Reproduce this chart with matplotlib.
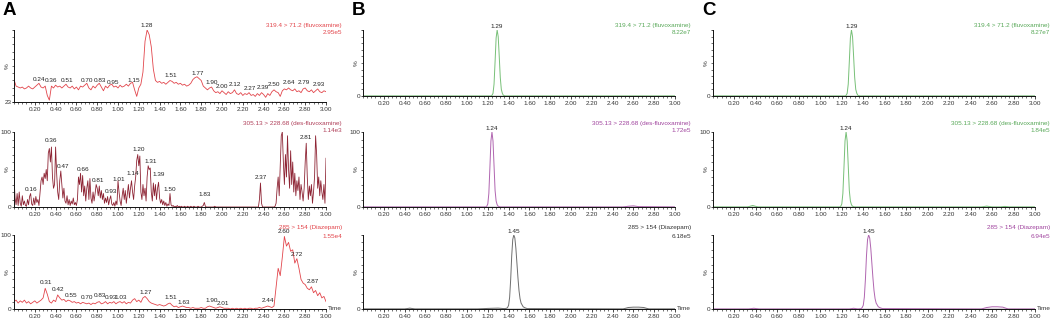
import numpy as np
import matplotlib
matplotlib.use("Agg")
import matplotlib.pyplot as plt
from matplotlib.ticker import MultipleLocator, FixedLocator

# ---------------- DATA ----------------
# Panel A, trace 1 (319.4 > 71.2, fluvoxamine), sampled every 0.02 min, % (axis 23-100)
a1_vals = [47, 40, 39, 38, 39, 37, 38, 40, 38, 37, 39, 41, 43, 39, 38, 40, 30, 25, 40, 38,
           41, 39, 40, 38, 40, 42, 39, 38, 40, 37, 39, 36, 40, 39, 41, 43, 38, 36, 40, 38,
           41, 43, 39, 35, 40, 38, 41, 42, 39, 40, 38, 41, 39, 40, 42, 40, 43, 44, 36, 29,
           38, 42, 55, 88, 100, 95, 82, 58, 46, 44, 45, 43, 44, 42, 44, 46, 45, 43, 44, 42,
           43, 41, 42, 40, 41, 43, 47, 49, 50, 48, 46, 40, 38, 36, 38, 39, 35, 33, 34, 32,
           35, 33, 31, 34, 32, 33, 36, 32, 31, 33, 30, 32, 31, 33, 30, 31, 29, 32, 30, 33,
           31, 28, 32, 30, 34, 36, 34, 33, 29, 35, 37, 36, 38, 36, 35, 37, 34, 35, 33, 37,
           38, 35, 34, 36, 33, 35, 37, 34, 33, 35, 34]
a1_labels = [0.24, 0.36, 0.51, 0.70, 0.83, 0.95, 1.15, 1.28, 1.51, 1.77, 1.90, 2.00,
             2.12, 2.27, 2.39, 2.50, 2.64, 2.79, 2.93]
a1_label_y = [47, 45.5, 45.5, 45.5, 45.5, 44, 45.5, 105, 51.5, 53.6, 44, 40,
              41.5, 37, 38, 41.5, 44, 44, 41.5]

# Panel A, trace 2 (305.13 > 228.68, des-fluvoxamine), sampled every 0.01 min, %
a2_vals = [40, 12, 3, 18, 2, 20, 5, 1, 15, 3,
           8, 2, 1, 10, 3, 14, 18, 4, 2, 12,
           3, 14, 6, 10, 2, 18, 35, 40, 30, 45,
           38, 50, 35, 72, 78, 60, 80, 40, 25, 30,
           80, 45, 20, 10, 35, 48, 30, 12, 25, 8,
           5, 15, 3, 10, 2, 8, 4, 12, 3, 6,
           2, 10, 40, 30, 45, 20, 42, 15, 28, 8,
           25, 35, 10, 38, 12, 5, 20, 8, 18, 30,
           25, 15, 28, 12, 22, 10, 18, 5, 12, 6,
           14, 3, 10, 15, 4, 2, 6, 1, 8, 3,
           35, 20, 8, 2, 15, 25, 10, 22, 5, 18,
           30, 12, 25, 35, 20, 10, 28, 40, 62, 70,
           55, 68, 20, 10, 30, 15, 25, 8, 40, 55,
           50, 52, 20, 8, 32, 15, 30, 10, 25, 33,
           12, 5, 10, 3, 8, 2, 6, 1, 4, 2,
           18, 3, 1, 2, 0, 1, 0, 2, 0, 1,
           0, 1, 0, 0, 1, 0, 0, 1, 0, 0,
           1, 0, 0, 1, 0, 0, 0, 1, 0, 0,
           0, 1, 2, 6, 1, 0, 0, 0, 0, 0,
           0, 0, 0, 1, 0, 0, 0, 0, 0, 0,
           0, 0, 0, 0, 0, 0, 0, 0, 0, 0,
           0, 0, 0, 0, 0, 0, 0, 0, 0, 0,
           0, 0, 0, 0, 0, 0, 0, 0, 0, 0,
           0, 0, 0, 0, 0, 0, 10, 32, 5, 0,
           0, 0, 0, 0, 0, 0, 0, 0, 0, 0,
           0, 1, 5, 25, 40, 15, 55, 95, 100, 60,
           30, 70, 40, 95, 50, 25, 75, 30, 60, 20,
           45, 15, 35, 22, 40, 10, 30, 20, 8, 25,
           60, 85, 40, 10, 28, 15, 30, 5, 20, 40,
           95, 70, 25, 40, 15, 35, 20, 10, 30, 5,
           65]
a2_labels = [0.16, 0.36, 0.47, 0.66, 0.81, 0.93, 1.01, 1.14, 1.20, 1.31, 1.39, 1.50,
             1.83, 2.37, 2.81]
a2_label_y = [23.6, 88, 54, 50, 34.7, 21, 37, 44, 77, 61, 42.7, 23.6, 16, 39, 92]

# Panel A, trace 3 (285 > 154, Diazepam), sampled every 0.02 min, %
a3_vals = [10, 12, 8, 11, 9, 12, 8, 10, 7, 9, 11, 8, 10, 12, 15, 28, 20, 10, 8, 12,
           10, 19, 15, 12, 13, 10, 12, 11, 9, 10, 8, 9, 7, 9, 8, 7, 8, 6, 8, 7,
           9, 10, 7, 8, 10, 7, 9, 8, 10, 7, 9, 10, 8, 10, 7, 9, 8, 12, 14, 10,
           12, 9, 15, 17, 14, 10, 8, 7, 6, 5, 6, 5, 4, 5, 7, 8, 5, 3, 4, 2,
           3, 4, 3, 2, 2, 1, 2, 1, 1, 1, 2, 1, 1, 3, 4, 3, 2, 1, 2, 3,
           2, 1, 1, 1, 0, 1, 0, 1, 0, 1, 0, 1, 0, 1, 1, 0, 1, 1, 2, 1,
           2, 3, 4, 3, 2, 4, 30, 55, 45, 70, 98, 85, 90, 78, 80, 62, 68, 55, 40, 35,
           33, 28, 26, 30, 22, 25, 18, 22, 15, 17, 10]
a3_labels = [0.31, 0.42, 0.55, 0.70, 0.83, 0.93, 1.03, 1.27, 1.51, 1.63, 1.90, 2.01,
             2.44, 2.60, 2.72, 2.87]
a3_label_y = [36, 25.7, 17.6, 15, 17.6, 16, 16, 22.5, 15, 9, 11, 7.7, 11, 104.5, 73, 37.8]

# Panels B and C: smooth peaks (time, %)
b1_t = [0.00, 1.23, 1.24, 1.25, 1.26, 1.27, 1.28, 1.29, 1.30, 1.31, 1.32, 1.33, 1.34, 1.35, 1.37, 3.00]
b1_v = [0, 0, 1, 4, 18, 52, 88, 100, 90, 60, 28, 10, 4, 1, 0, 0]
b2_t = [0.00, 1.18, 1.19, 1.20, 1.21, 1.22, 1.23, 1.24, 1.25, 1.26, 1.27, 1.28, 1.29, 1.30, 1.32,
        2.50, 2.55, 2.60, 2.65, 3.00]
b2_v = [0, 0, 1, 4, 18, 52, 88, 100, 88, 55, 22, 8, 3, 1, 0, 0, 1, 1.5, 0.5, 0]
b3_t = [0.00, 0.40, 0.45, 0.50, 1.10, 1.20, 1.30, 1.36, 1.38, 1.39, 1.40, 1.41, 1.42, 1.43, 1.44,
        1.45, 1.46, 1.47, 1.48, 1.49, 1.50, 1.51, 1.52, 1.54, 1.56, 1.58, 2.50, 2.55, 2.60,
        2.65, 2.70, 2.75, 3.00]
b3_v = [0, 0, 1.2, 0, 0, 0.8, 1.2, 0.5, 1, 2, 5, 16, 40, 72, 94, 100, 96, 82, 62, 42, 25, 14, 8,
        3, 1.5, 0.5, 0, 2, 2.5, 2.5, 2, 0, 0]
c1_t = [0.00, 1.23, 1.24, 1.25, 1.26, 1.27, 1.28, 1.29, 1.30, 1.31, 1.32, 1.33, 1.34, 1.35, 1.37, 3.00]
c1_v = [0, 0, 1, 4, 18, 52, 88, 100, 90, 60, 28, 10, 4, 1, 0, 0]
c2_t = [0.00, 0.32, 0.37, 0.42, 1.18, 1.19, 1.20, 1.21, 1.22, 1.23, 1.24, 1.25, 1.26, 1.27, 1.28,
        1.29, 1.30, 1.32, 2.50, 2.55, 2.60, 2.68, 2.72, 2.76, 3.00]
c2_v = [0, 0, 2, 0, 0, 1, 4, 18, 52, 88, 100, 88, 55, 22, 8, 3, 1, 0, 0, 1.2, 0, 0, 0.8, 0, 0]
c3_t = [0.00, 0.33, 0.38, 0.43, 1.27, 1.31, 1.35, 1.38, 1.39, 1.40, 1.41, 1.42, 1.43, 1.44, 1.45,
        1.46, 1.47, 1.48, 1.49, 1.50, 1.51, 1.52, 1.54, 1.56, 1.58, 2.50, 2.55, 2.60, 2.65,
        2.70, 2.75, 3.00]
c3_v = [0, 0, 1, 0, 0, 1, 0, 0.5, 2, 5, 16, 40, 72, 94, 100, 96, 82, 62, 42, 25, 14, 8, 3, 1.5,
        0.5, 0, 2, 3, 3, 2.5, 0, 0]

titles = {
    ("A", 0): ("319.4 > 71.2 (fluvoxamine)", "2.95e5"),
    ("A", 1): ("305.13 > 228.68 (des-fluvoxamine)", "1.14e3"),
    ("A", 2): ("285 > 154 (Diazepam)", "1.55e4"),
    ("B", 0): ("319.4 > 71.2 (fluvoxamine)", "8.22e7"),
    ("B", 1): ("305.13 > 228.68 (des-fluvoxamine)", "1.72e5"),
    ("B", 2): ("285 > 154 (Diazepam)", "6.18e5"),
    ("C", 0): ("319.4 > 71.2 (fluvoxamine)", "8.27e7"),
    ("C", 1): ("305.13 > 228.68 (des-fluvoxamine)", "1.84e5"),
    ("C", 2): ("285 > 154 (Diazepam)", "6.94e5"),
}
x_ticks = [0.20, 0.40, 0.60, 0.80, 1.00, 1.20, 1.40, 1.60, 1.80, 2.00, 2.20, 2.40, 2.60, 2.80, 3.00]

# ---------------- STYLE ----------------
W, H = 1052, 323
fig = plt.figure(figsize=(W / 100, H / 100), dpi=100)
fig.patch.set_facecolor("white")
small = ["Liberation Sans Narrow", "Liberation Sans", "DejaVu Sans"]
FS = 4.6

RED = "#e2454b"
MAROON = "#8e2434"
MAROON_T = "#b0405a"
GREEN = "#78c078"
GREEN_T = "#58a858"
PURPLE = "#b065b0"
PURPLE_T = "#a0449e"
GRAY = "#6e6e6e"

def fx(px):
    return px / W

def fy(py):
    return 1 - py / H

cols = {"A": (14, 326), "B": (363, 675), "C": (713, 1035)}
rows = {"A": [(30, 102), (132, 207), (235, 309)],
        "B": [(30, 96), (132, 207), (235, 309)],
        "C": [(30, 96), (132, 207), (235, 309)]}
label_right = {"A": 342, "B": 691, "C": 1050}
title_y = [(25, 33), (123, 131), (228, 237)]
letter_x = {"A": 3, "B": 352, "C": 702}


def make_ax(col, r, ymin, yticklabels):
    l, rr = cols[col]
    t, b = rows[col][r]
    ax = fig.add_axes([fx(l), fy(b), fx(rr - l), (b - t) / H])
    ax.set_xlim(0, 3.0)
    ax.set_ylim(ymin, 100)
    for s in ("top", "right"):
        ax.spines[s].set_visible(False)
    for s in ("left", "bottom"):
        ax.spines[s].set_linewidth(0.7)
        ax.spines[s].set_color("#111111")
    ax.xaxis.set_major_locator(FixedLocator(x_ticks))
    ax.xaxis.set_minor_locator(MultipleLocator(0.04))
    ax.set_xticklabels(["%.2f" % v for v in x_ticks], fontsize=FS, family=small, color="#333333")
    ax.yaxis.set_major_locator(FixedLocator([ymin, 100]))
    ax.yaxis.set_minor_locator(MultipleLocator(10 if ymin == 0 else 7.7))
    ax.set_yticklabels(yticklabels, fontsize=FS, family=small, color="#333333")
    ax.tick_params(axis="x", which="major", length=2.2, width=0.5, pad=1.2)
    ax.tick_params(axis="y", which="major", length=1.6, width=0.5, pad=0.4)
    ax.tick_params(axis="both", which="minor", length=1.2, width=0.4)
    ax.patch.set_alpha(0)
    ax.text(-0.022, 0.5, "%", transform=ax.transAxes, rotation=90, fontsize=FS,
            family=small, ha="center", va="center", color="#333333")
    return ax


def put_title(col, r, color):
    l1, l2 = titles[(col, r)]
    y1, y2 = title_y[r]
    fig.text(fx(label_right[col]), fy(y1), l1, ha="right", va="center",
             fontsize=FS, family=small, color=color)
    fig.text(fx(label_right[col]), fy(y2), l2, ha="right", va="center",
             fontsize=FS, family=small, color=color)


def put_labels(ax, times, ys):
    for t, y in zip(times, ys):
        ax.text(t, y, "%.2f" % t, ha="center", va="center", fontsize=FS,
                family=small, color="#222222", clip_on=False)


# Panel letters
for c in ("A", "B", "C"):
    fig.text(fx(letter_x[c]), fy(2), c, ha="left", va="top", fontsize=13.5,
             fontweight="bold", family=["Liberation Sans", "DejaVu Sans"], color="black")

# ---- Panel A ----
ax = make_ax("A", 0, 23, ["23", ""])
ax.plot(np.linspace(0, 3, len(a1_vals)), a1_vals, color=RED, lw=0.6)
put_labels(ax, a1_labels, a1_label_y)
put_title("A", 0, RED)

ax = make_ax("A", 1, 0, ["0", "100"])
ax.plot(np.linspace(0, 3, len(a2_vals)), a2_vals, color=MAROON, lw=0.6)
put_labels(ax, a2_labels, a2_label_y)
put_title("A", 1, MAROON_T)

ax = make_ax("A", 2, 0, ["0", "100"])
ax.plot(np.linspace(0, 3, len(a3_vals)), a3_vals, color=RED, lw=0.6)
put_labels(ax, a3_labels, a3_label_y)
put_title("A", 2, RED)
ax.text(1.005, 0.0, "Time", transform=ax.transAxes, ha="left", va="center",
        fontsize=FS, family=small, color="#333333")

# ---- Panel B ----
ax = make_ax("B", 0, 0, ["0", ""])
ax.plot(b1_t, b1_v, color=GREEN, lw=0.7)
ax.plot([0, 3], [0, 0], color="#2f6b2f", lw=1.0, zorder=1)
put_labels(ax, [1.29], [105])
put_title("B", 0, GREEN_T)

ax = make_ax("B", 1, 0, ["0", "100"])
ax.plot(b2_t, b2_v, color=PURPLE, lw=0.7)
ax.plot([0, 3], [0, 0], color="#5a2a5a", lw=1.0, zorder=1)
put_labels(ax, [1.24], [105])
put_title("B", 1, PURPLE_T)

ax = make_ax("B", 2, 0, ["0", ""])
ax.plot(b3_t, b3_v, color=GRAY, lw=0.7)
ax.plot([0, 3], [0, 0], color="#222222", lw=1.0, zorder=1)
put_labels(ax, [1.45], [105])
put_title("B", 2, "#333333")
ax.text(1.005, 0.0, "Time", transform=ax.transAxes, ha="left", va="center",
        fontsize=FS, family=small, color="#333333")

# ---- Panel C ----
ax = make_ax("C", 0, 0, ["0", ""])
ax.plot(c1_t, c1_v, color=GREEN, lw=0.7)
ax.plot([0, 3], [0, 0], color="#2f6b2f", lw=1.0, zorder=1)
put_labels(ax, [1.29], [105])
put_title("C", 0, GREEN_T)

ax = make_ax("C", 1, 0, ["0", "100"])
ax.plot(c2_t, c2_v, color=GREEN, lw=0.7)
ax.plot([0, 3], [0, 0], color="#2f6b2f", lw=1.0, zorder=1)
put_labels(ax, [1.24], [105])
put_title("C", 1, GREEN_T)

ax = make_ax("C", 2, 0, ["0", ""])
ax.plot(c3_t, c3_v, color=PURPLE, lw=0.7)
ax.plot([0, 3], [0, 0], color="#5a2a5a", lw=1.0, zorder=1)
put_labels(ax, [1.45], [105])
put_title("C", 2, PURPLE_T)
ax.text(1.005, 0.0, "Time", transform=ax.transAxes, ha="left", va="center",
        fontsize=FS, family=small, color="#333333")

fig.savefig("out.png", dpi=100, facecolor="white")
